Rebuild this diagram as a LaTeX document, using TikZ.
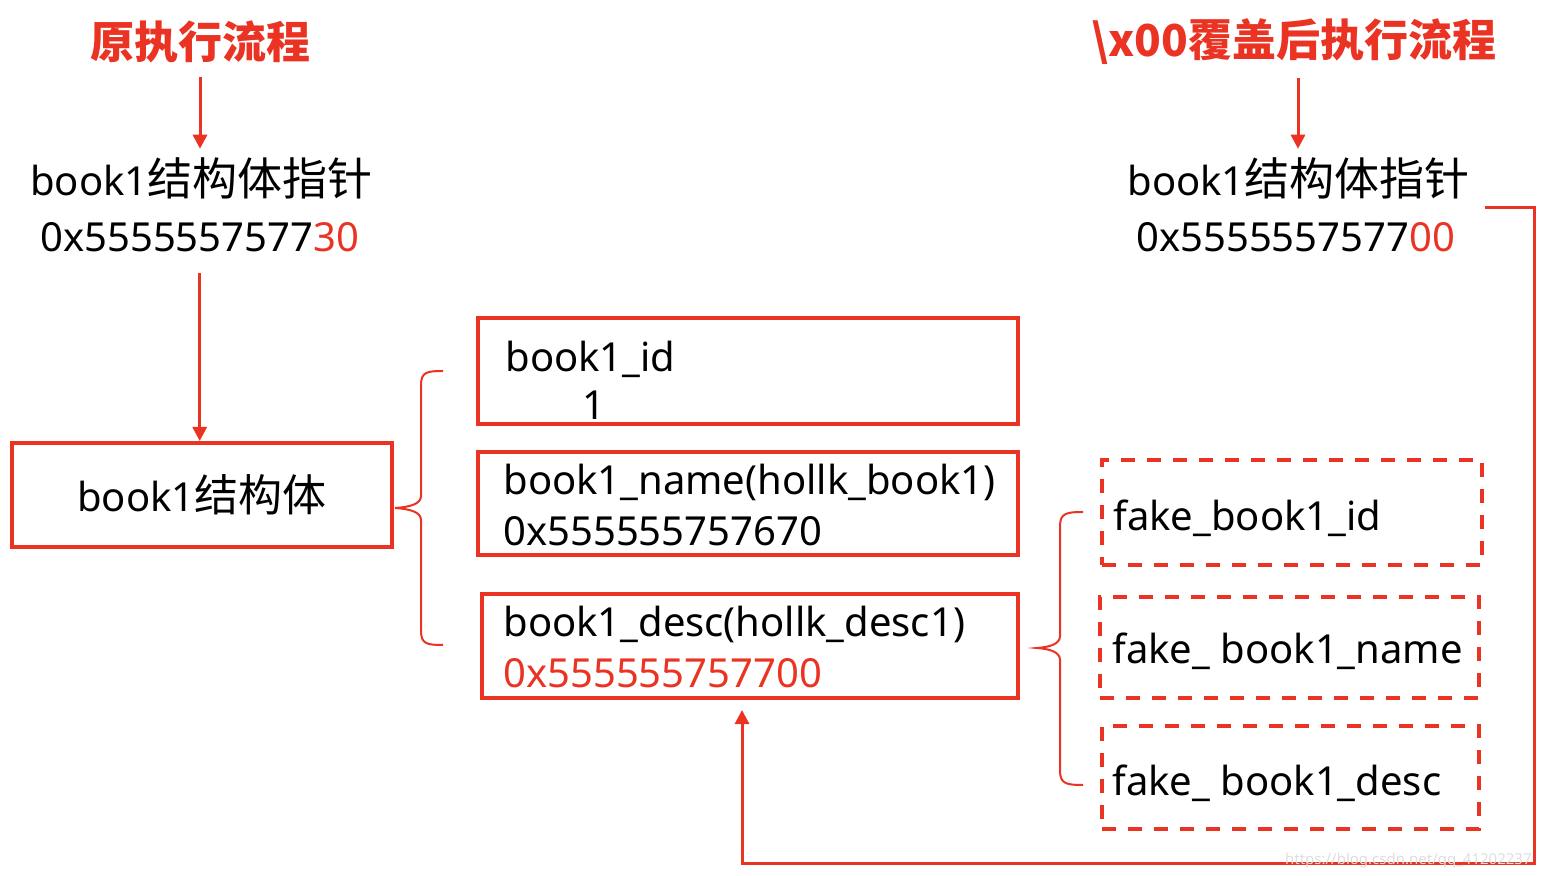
\documentclass[tikz,border=0pt]{standalone}
\usepackage{fontspec}
\setmainfont{Noto Sans}
\newfontfamily\cjk{Noto Sans CJK SC}
\usetikzlibrary{arrows.meta}
\definecolor{hred}{RGB}{234,51,35}
\definecolor{wmgray}{RGB}{222,222,222}
\newcommand{\lt}{\fontsize{20pt}{24pt}\selectfont}
\newcommand{\ck}{\cjk\fontsize{22pt}{24pt}\selectfont}
\newcommand{\ckbig}{\cjk\fontsize{22.5pt}{26pt}\selectfont}
\newcommand{\ttl}{\cjk\bfseries\fontsize{22pt}{24pt}\selectfont}
\begin{document}
\begin{tikzpicture}[x=0.5pt,y=-0.5pt,
  box/.style={draw=hred, line width=2pt, inner sep=0pt},
  dbox/.style={draw=hred, line width=2pt, dash pattern=on 7pt off 6pt, inner sep=0pt},
  txt/.style={inner sep=0pt, anchor=base west, font=\lt},
  arr/.style={draw=hred, line width=1.5pt, -{Triangle[width=7pt,length=7pt]}},
  brace/.style={draw=hred, line width=1pt},
  title/.style={inner sep=0pt, text=hred, font=\ttl},
]
\useasboundingbox (0,0) rectangle (1542,876);

% titles
\node[title] (t1) at (200,42) {原执行流程};
\node[title] (t2) at (1294,42) {\textbackslash x00覆盖后执行流程};

% pointer texts
\node[txt] (p1a) at (30,196) {book1{\ckbig 结构体指针}};
\node[txt] (p1b) at (40,252) {0x5555557577\textcolor{hred}{30}};
\node[txt] (p2a) at (1127,196) {book1{\ckbig 结构体指针}};
\node[txt] (p2b) at (1136,252) {0x5555557577\textcolor{hred}{00}};

% struct box
\node[box, minimum width=190pt, minimum height=52pt, font=\lt] (box1) at (202,495) {book1{\ck 结构体}};

% member boxes
\node[box, minimum width=270pt, minimum height=53pt] (idbox) at (748,371) {};
\node[box, minimum width=270pt, minimum height=51.5pt] (namebox) at (748,503.5) {};
\node[box, minimum width=268pt, minimum height=52pt] (descbox) at (750,646) {};

\node[txt] (idl1) at (505,372) {book1\_id};
\node[txt] (idl2) at (582,420) {1};
\node[txt] (namel1) at (503,495) {book1\_name(hollk\_book1)};
\node[txt] (namel2) at (503,546) {0x555555757670};
\node[txt] (descl1) at (503,637) {book1\_desc(hollk\_desc1)};
\node[txt, text=hred] (descl2) at (503,688) {0x555555757700};

% fake boxes
\node[dbox, minimum width=190pt, minimum height=52.5pt] (fake1) at (1292,512.5) {};
\node[dbox, minimum width=189.5pt, minimum height=50.5pt] (fake2) at (1289.5,647.5) {};
\node[dbox, minimum width=188.5pt, minimum height=51.5pt] (fake3) at (1290.5,777.5) {};
\node[txt] (fakel1) at (1113,531) {fake\_book1\_id};
\node[txt] (fakel2) at (1112,663) {fake\_ book1\_name};
\node[txt] (fakel3) at (1112,795) {fake\_ book1\_desc};

% arrows
\draw[arr, shorten <=6.5pt, shorten >=4.5pt] (t1.south) -- (t1.south |- p1a.north);
\draw[arr, shorten <=10pt] (p1b.south) -- (p1b.south |- box1.north);
\draw[arr, shorten <=6.5pt, shorten >=4.5pt] ([xshift=2pt]t2.south) -- ([xshift=2pt]t2.south |- p2a.north);

% braces
\coordinate (b1tip) at (395,508);
\coordinate (b2tip) at (1037,648);
\draw[brace] (443,371) .. controls (427,371) and (421,372) .. (421,385) -- (421,496)
  .. controls (421,504) and (410,507) .. (b1tip)
  .. controls (410,509) and (421,512) .. (421,520) -- (421,631)
  .. controls (421,644) and (427,645) .. (443,645);
\draw[brace] (1083,512) .. controls (1067,512) and (1060,513) .. (1060,526) -- (1060,636)
  .. controls (1060,644) and (1050,647) .. (b2tip)
  .. controls (1050,649) and (1060,652) .. (1060,660) -- (1060,771)
  .. controls (1060,784) and (1067,785) .. (1083,785);

% overwrite connector
\coordinate (c1) at (1534,208);
\coordinate (c2) at (1534,863);
\draw[arr, shorten >=5pt] ([xshift=15pt]p2b.east |- c1) -- (c1) -- (c2) -| ([xshift=-4pt]descbox.south);

% watermark
\node[inner sep=0pt, anchor=base east, text=wmgray, font=\fontsize{7.5pt}{9pt}\selectfont] (wm) at (1532,864) {https://blog.csdn.net/qq\_41202237};
\end{tikzpicture}
\end{document}
